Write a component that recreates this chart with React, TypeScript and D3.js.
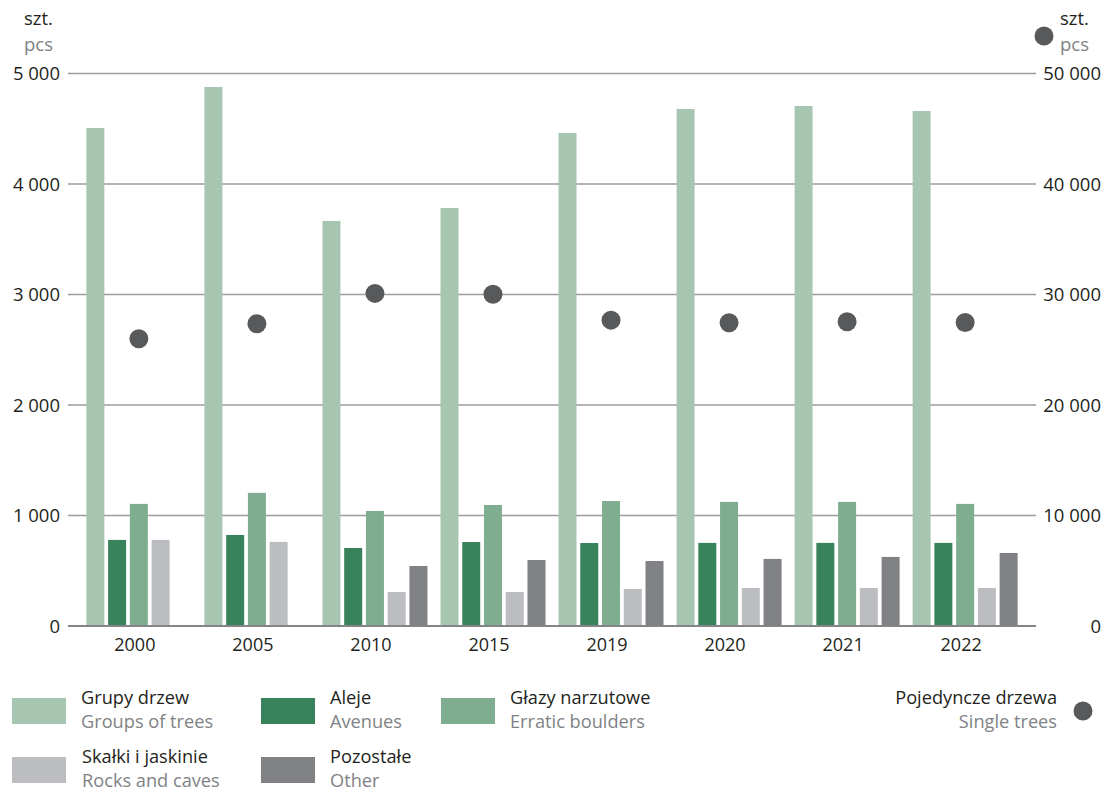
import React from "react";
import * as d3 from "d3";

const years = ["2000", "2005", "2010", "2015", "2019", "2020", "2021", "2022"];
const seriesKeys = ["grupy", "aleje", "glazy", "skalki", "pozostale"];
const grupyDrzew = [4507, 4878, 3665, 3783, 4462, 4679, 4706, 4661];
const aleje = [779, 824, 706, 760, 751, 752, 752, 752];
const glazy = [1105, 1205, 1041, 1095, 1131, 1123, 1123, 1105];
const skalki = [779, 761, 308, 308, 335, 344, 344, 344];
const pozostale: (number | null)[] = [null, null, 543, 597, 588, 607, 625, 661];
const pojedyncze = [25990, 27350, 30100, 30030, 27680, 27440, 27530, 27470];
const leftTicks = [0, 1000, 2000, 3000, 4000, 5000];
const rightTicks = [0, 10000, 20000, 30000, 40000, 50000];

const colors: Record<string, string> = {
  grupy: "#a7c6b1",
  aleje: "#39835c",
  glazy: "#7fad8f",
  skalki: "#bcbdc1",
  pozostale: "#808184",
};
const dotColor = "#58595b";

const legendItems = [
  { key: "grupy", pl: "Grupy drzew", en: "Groups of trees", col: 0, row: 0 },
  { key: "aleje", pl: "Aleje", en: "Avenues", col: 1, row: 0 },
  { key: "glazy", pl: "Głazy narzutowe", en: "Erratic boulders", col: 2, row: 0 },
  { key: "skalki", pl: "Skałki i jaskinie", en: "Rocks and caves", col: 0, row: 1 },
  { key: "pozostale", pl: "Pozostałe", en: "Other", col: 1, row: 1 },
];

const W = 1106;
const H = 791;
const left = 68;
const right = 1036;
const top = 73.5;
const bottom = 626;
const FONT = "'Open Sans', sans-serif";
const dark = "#231f20";
const grey = "#808285";

const fmt = (v: number) => d3.format(",")(v).replace(/,/g, " ");

export default function App() {
  const x0 = d3.scaleBand<string>().domain(years).range([left, right]).paddingInner(0.1105).paddingOuter(0.1556);
  const x1 = d3.scaleBand<string>().domain(seriesKeys).range([0, x0.bandwidth()]).paddingInner(0.1724).paddingOuter(0);
  const yL = d3.scaleLinear().domain([0, 5000]).range([bottom, top]);
  const yR = d3.scaleLinear().domain([0, 50000]).range([bottom, top]);

  const data: Record<string, (number | null)[]> = {
    grupy: grupyDrzew,
    aleje,
    glazy,
    skalki,
    pozostale,
  };

  const legendX = [12, 261, 441];
  const legendY = [698, 757];
  const LF = 18.2;
  const LS = 23.5;

  return (
    <div style={{ position: "absolute", left: 0, top: 0 }}>
      <svg width={W} height={H} style={{ display: "block", fontFamily: FONT }}>
        <rect width={W} height={H} fill="#fff" />
        {leftTicks.map((t) => (
          <line
            key={"g" + t}
            x1={left}
            x2={right}
            y1={yL(t)}
            y2={yL(t)}
            stroke={t === 0 ? "#858585" : "#9d9d9d"}
            strokeWidth={t === 0 ? 2 : 1.3}
          />
        ))}
        {years.map((yr, i) => (
          <g key={yr} transform={`translate(${x0(yr)},0)`}>
            {seriesKeys.map((k) => {
              const v = data[k][i];
              if (v == null) return null;
              return (
                <rect
                  key={k}
                  x={x1(k)}
                  y={yL(v)}
                  width={x1.bandwidth()}
                  height={bottom - yL(v)}
                  fill={colors[k]}
                />
              );
            })}
          </g>
        ))}
        <line x1={left} x2={right} y1={bottom} y2={bottom} stroke="#858585" strokeWidth={2} />
        {years.map((yr, i) => (
          <circle
            key={"d" + yr}
            cx={(x0(yr) as number) + x0.bandwidth() / 2}
            cy={yR(pojedyncze[i])}
            r={9.5}
            fill={dotColor}
          />
        ))}
        {years.map((yr) => (
          <text
            key={"l" + yr}
            x={(x0(yr) as number) + x0.bandwidth() / 2 - 4}
            y={651}
            textAnchor="middle"
            fontSize={18}
            fill={dark}
          >
            {yr}
          </text>
        ))}
        {leftTicks.map((t) => (
          <text key={"lt" + t} x={60} y={yL(t) + 6.5} textAnchor="end" fontSize={18.5} fill={dark}>
            {fmt(t)}
          </text>
        ))}
        {rightTicks.map((t) => (
          <text key={"rt" + t} x={1101} y={yR(t) + 6.5} textAnchor="end" fontSize={18.5} fill={dark}>
            {fmt(t)}
          </text>
        ))}
        <text x={24} y={25} fontSize={18.5} fill={dark}>szt.</text>
        <text x={24} y={51} fontSize={18.5} fill={grey}>pcs</text>
        <circle cx={1044} cy={36} r={9.5} fill={dotColor} />
        <text x={1060} y={25} fontSize={18.5} fill={dark}>szt.</text>
        <text x={1060} y={51} fontSize={18.5} fill={grey}>pcs</text>
        {legendItems.map((it) => (
          <g key={"lg" + it.key}>
            <rect x={legendX[it.col]} y={legendY[it.row]} width={54} height={26} fill={colors[it.key]} />
            <text x={legendX[it.col] + 69 + (it.row === 1 && it.col === 0 ? 1 : 0)} y={legendY[it.row] + 6} fontSize={LF} fill={dark}>
              {it.pl}
            </text>
            <text x={legendX[it.col] + 69 + (it.row === 1 && it.col === 0 ? 1 : 0)} y={legendY[it.row] + 6 + LS} fontSize={LF} fill={grey}>
              {it.en}
            </text>
          </g>
        ))}
        <text x={1057} y={704} textAnchor="end" fontSize={LF} fill={dark}>Pojedyncze drzewa</text>
        <text x={1057} y={704 + LS} textAnchor="end" fontSize={LF} fill={grey}>Single trees</text>
        <circle cx={1083} cy={711} r={9.5} fill={dotColor} />
      </svg>
    </div>
  );
}
